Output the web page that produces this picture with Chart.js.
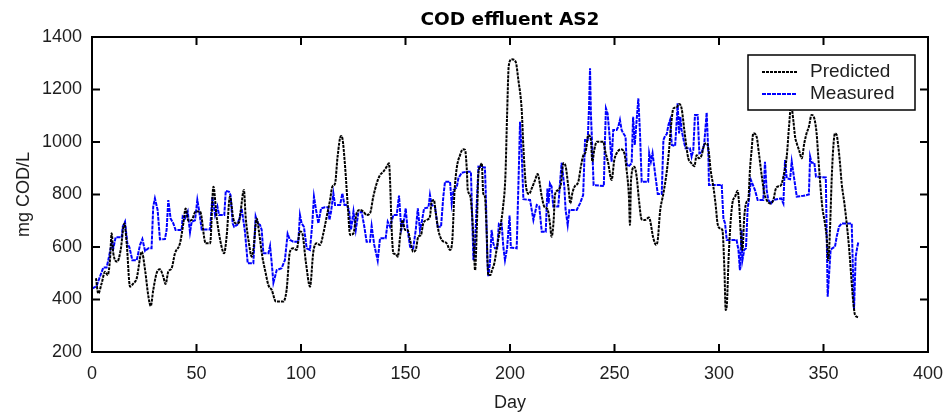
<!DOCTYPE html>
<html>
<head>
<meta charset="utf-8">
<script src="https://cdn.jsdelivr.net/npm/chart.js@4.4.1/dist/chart.umd.min.js"></script>
<style>
  html, body { margin: 0; padding: 0; background: #fff; }
</style>
</head>
<body>
<canvas id="cod" width="946" height="416"></canvas>
<script>
// Predicted COD (model output), day -> mg COD/L
const predDays = [
  1.9,3.0,4.6,6.2,7.5,8.6,9.4,10.2,12.1,13.7,15.5,16.6,18.2,19.8,21.4,23.8,25.4,27.0,28.1,29.3,
  30.9,32.5,34.1,35.2,36.5,38.1,39.7,42.1,43.7,44.8,46.1,47.7,49.6,51.7,54.4,56.5,58.1,59.6,62.0,63.2,
  64.4,66.0,67.6,68.7,70.3,71.1,72.7,73.5,75.1,76.4,77.2,78.8,80.0,81.5,82.8,84.4,86.0,88.0,91.5,93.1,
  94.7,96.3,97.9,99.5,100.6,102.4,104.3,105.9,107.5,109.1,110.7,112.3,113.9,115.0,116.3,117.5,119.1,119.8,121.1,122.4,
  123.5,125.1,126.6,128.2,129.8,131.4,133.0,134.6,136.2,137.8,139.4,141.0,142.1,142.6,143.4,144.2,145.3,146.3,147.4,148.5,
  149.8,151.0,152.2,153.7,154.9,156.1,157.4,158.5,160.1,161.7,162.5,163.6,164.4,165.7,167.3,169.7,171.3,172.4,173.4,174.5,
  176.1,177.4,178.5,179.3,179.8,180.9,181.7,182.5,183.3,184.1,184.9,185.7,186.5,187.2,188.0,188.8,189.6,190.6,191.4,192.5,
  193.8,195.4,196.6,197.8,198.6,199.4,200.8,202.7,204.0,205.6,206.4,207.5,209.1,210.4,212.0,213.2,215.2,216.4,218.0,219.1,
  219.9,220.9,221.5,223.1,224.4,225.5,226.6,227.9,228.9,229.8,230.9,232.7,233.9,235.0,236.2,237.5,238.7,239.4,240.3,241.5,
  244.7,245.4,247.0,248.6,249.9,251.5,253.1,254.7,255.8,256.9,257.4,257.9,259.5,260.6,261.7,263.0,264.6,266.5,268.6,269.9,
  270.7,271.8,273.4,275.0,276.1,277.0,278.2,279.7,280.9,282.1,283.4,284.5,285.3,286.6,288.2,289.3,290.4,291.7,292.9,294.1,
  295.0,296.0,297.3,298.4,299.3,300.5,301.6,302.6,303.2,303.8,304.5,305.3,306.4,307.7,308.9,309.6,310.5,311.2,312.1,313.3,
  314.0,314.8,315.6,316.4,318.0,319.1,320.4,321.7,322.8,324.4,326.0,327.1,328.0,329.7,330.8,332.4,333.5,334.5,335.6,336.4,
  337.2,338.3,339.6,340.8,341.9,343.0,344.3,345.6,346.7,347.5,348.3,349.4,350.7,351.5,352.3,353.1,353.9,354.7,355.5,356.3,
  357.1,357.9,358.7,360.0,361.1,361.9,362.7,363.5,364.3,365.1,366.7
];
const predValues = [
  481,423,461,506,493,550,652,576,544,588,690,614,449,461,481,582,512,411,375,436,
  500,515,487,459,506,519,576,614,690,747,700,703,735,735,614,614,830,716,601,576,
  639,792,709,690,693,735,817,716,614,563,589,709,652,563,512,455,436,392,392,436,
  582,595,589,659,652,538,449,582,614,608,652,716,779,830,842,944,1023,1014,906,754,
  646,652,728,741,735,722,728,792,842,874,887,906,919,855,665,576,573,563,639,703,
  665,665,627,582,589,639,646,690,703,716,773,779,735,665,627,614,589,627,804,900,
  950,972,970,900,817,798,741,639,512,665,881,906,919,804,792,665,493,493,512,538,
  601,677,747,870,1100,1290,1315,1306,1236,1122,982,842,802,823,855,878,792,754,743,690,
  639,703,798,817,842,919,908,830,766,804,830,849,906,947,963,1027,1008,925,969,1001,
  1001,970,919,855,931,963,972,957,893,792,684,855,906,868,779,705,703,712,633,608,
  627,735,804,887,969,1058,1128,1132,1145,1128,1046,976,938,921,908,950,938,950,989,995,
  970,893,830,760,690,671,665,512,360,385,538,665,766,792,814,766,639,589,716,773,
  779,893,969,1033,1020,957,874,804,779,766,779,820,830,836,868,944,1058,1140,1080,1020,
  995,969,938,995,1033,1058,1103,1090,1033,944,855,754,690,639,550,665,855,982,1033,1027,
  982,919,842,766,690,627,550,461,385,341,332
];

// Measured COD, day -> mg COD/L
const measDays = [
  0.2,2.2,3.8,5.4,7.0,7.8,8.6,9.4,10.2,11.3,14.2,14.7,15.8,16.9,17.9,19.3,21.4,23.0,24.1,25.4,
  27.0,28.5,29.3,30.1,31.4,32.5,34.9,35.7,36.5,37.6,38.9,40.0,42.9,43.4,44.5,45.8,46.9,47.7,49.3,50.4,
  51.2,52.5,56.5,57.6,58.9,60.0,60.8,63.3,64.0,65.6,66.3,67.3,68.0,69.5,70.8,71.6,72.4,73.2,74.5,77.2,
  78.3,79.3,80.4,81.2,82.0,84.4,85.2,86.0,86.8,88.4,90.7,92.3,93.6,94.7,96.3,98.7,99.5,100.3,101.4,102.7,
  104.3,105.4,106.2,107.2,108.3,109.6,111.5,113.0,113.6,114.4,115.5,116.3,118.7,119.8,120.8,122.0,123.0,123.9,125.1,126.2,
  127.4,129.0,130.3,131.4,133.0,133.8,135.0,136.7,137.8,140.5,141.5,142.6,144.2,145.8,146.9,148.0,149.0,150.1,151.0,152.2,
  153.7,154.9,155.9,156.9,157.8,158.9,161.0,161.7,162.5,164.1,165.4,167.0,168.1,168.9,171.3,172.1,173.0,174.5,175.3,176.9,
  179.3,181.3,181.9,182.5,183.3,184.1,184.9,188.0,188.5,189.1,189.6,190.4,191.2,192.0,192.8,193.9,194.7,196.0,196.8,197.6,
  198.6,199.8,200.4,203.2,204.3,204.8,205.6,206.4,209.6,211.2,212.8,214.0,215.2,217.1,217.9,218.5,219.1,219.9,220.7,223.1,
  223.9,224.7,226.0,226.6,227.6,228.4,231.9,233.5,235.0,235.9,237.2,237.8,238.3,238.7,239.4,240.0,244.9,245.4,245.9,246.7,
  247.8,248.6,249.4,251.0,251.8,252.6,253.4,254.2,255.3,255.8,256.6,258.2,258.9,259.7,260.6,261.4,262.2,263.0,266.1,266.6,
  267.4,268.2,269.7,270.7,272.6,273.4,274.2,275.0,275.8,276.6,277.4,279.0,279.8,280.2,280.9,281.5,282.1,283.4,284.0,286.1,
  286.9,287.7,288.5,289.8,290.6,291.7,292.9,294.1,294.9,295.2,301.3,302.1,302.9,303.7,308.4,309.3,310.0,310.8,311.2,312.1,
  312.9,313.7,314.3,315.3,317.2,318.5,321.2,322.0,322.8,323.6,324.9,326.0,329.7,330.8,331.6,332.4,334.0,334.8,335.6,337.2,
  340.4,342.0,343.0,343.6,344.3,345.6,346.4,351.1,351.5,352.0,352.6,353.4,354.2,355.5,356.3,357.4,358.7,363.5,364.0,364.6,
  365.4,366.2,366.7
];
const measValues = [
  442,451,487,522,522,550,582,614,595,637,637,677,696,614,599,550,550,608,630,585,
  595,595,754,785,741,629,630,665,779,709,690,665,665,716,709,735,656,696,702,779,
  741,667,667,792,722,754,722,722,814,810,797,690,677,684,716,747,703,658,538,538,
  716,690,684,665,576,576,604,538,464,512,519,550,650,627,620,620,722,690,677,595,
  589,690,792,741,690,747,751,751,703,735,804,760,760,804,760,760,741,665,735,665,
  728,735,677,620,620,680,610,548,633,633,696,677,722,722,796,665,690,747,665,601,
  595,665,747,665,696,747,751,798,760,754,677,677,792,849,849,766,817,827,862,883,
  887,887,716,550,620,766,906,903,779,563,489,538,665,614,595,595,690,690,601,550,
  595,720,598,595,919,1077,957,782,779,703,760,754,658,658,823,766,842,830,754,754,
  842,921,830,741,684,741,741,766,798,1008,1008,1128,1281,1109,969,836,832,995,1128,1109,
  1008,925,1046,1046,1058,1084,1046,1033,1020,919,906,919,1096,989,1084,1166,1033,849,849,957,
  925,957,862,802,802,1008,1023,1030,1065,1084,989,985,1084,1147,1033,1096,1046,995,976,976,
  944,969,1103,1103,957,960,989,1112,957,836,836,709,690,627,627,589,512,665,550,589,
  595,747,779,855,817,779,779,925,817,779,766,779,785,766,931,862,858,925,881,792,
  795,798,800,944,921,921,868,865,665,411,487,589,595,601,639,677,690,690,538,360,
  563,601,620
];

const toPoints = (xs, ys) => xs.map((d, i) => ({ x: d, y: ys[i] }));

const textFont = '"Liberation Sans", Arial, Helvetica, sans-serif';
const textColor = '#1e1e1e';

// MATLAB style box: frame, inward ticks on all sides and a boxed legend
const matlabBox = {
  id: 'matlabBox',
  afterDatasetsDraw(chart) {
    const { ctx, chartArea: a, scales: { x, y } } = chart;
    const len = 8;
    ctx.save();
    ctx.strokeStyle = '#000';
    ctx.lineWidth = 2;
    ctx.beginPath();
    x.ticks.forEach(t => {
      const px = x.getPixelForValue(t.value);
      ctx.moveTo(px, a.bottom); ctx.lineTo(px, a.bottom - len);
      ctx.moveTo(px, a.top); ctx.lineTo(px, a.top + len);
    });
    y.ticks.forEach(t => {
      const py = y.getPixelForValue(t.value);
      ctx.moveTo(a.left, py); ctx.lineTo(a.left + len, py);
      ctx.moveTo(a.right, py); ctx.lineTo(a.right - len, py);
    });
    ctx.stroke();
    ctx.strokeRect(a.left, a.top, a.right - a.left, a.bottom - a.top);

    // legend
    const bw = 167, bh = 55;
    const bx = a.right - 13 - bw, by = a.top + 18;
    ctx.fillStyle = '#fff';
    ctx.fillRect(bx, by, bw, bh);
    ctx.lineWidth = 1.5;
    ctx.strokeRect(bx, by, bw, bh);
    ctx.font = '19px ' + textFont;
    ctx.textBaseline = 'middle';
    ctx.textAlign = 'left';
    chart.data.datasets.forEach((ds, i) => {
      const cy = by + 17 + i * 22;
      ctx.save();
      ctx.strokeStyle = ds.borderColor;
      ctx.lineWidth = ds.borderWidth;
      ctx.setLineDash(ds.borderDash);
      ctx.beginPath();
      ctx.moveTo(bx + 14, cy);
      ctx.lineTo(bx + 49, cy);
      ctx.stroke();
      ctx.restore();
      ctx.fillStyle = textColor;
      ctx.fillText(ds.label, bx + 62, cy);
    });
    ctx.restore();
  }
};

new Chart(document.getElementById('cod'), {
  type: 'line',
  data: {
    datasets: [{
      label: 'Predicted',
      data: toPoints(predDays, predValues),
      borderColor: '#000000',
      borderWidth: 2,
      borderDash: [3, 1],
      cubicInterpolationMode: 'monotone',
      pointRadius: 0,
      fill: false
    }, {
      label: 'Measured',
      data: toPoints(measDays, measValues),
      borderColor: '#0000ff',
      borderWidth: 2,
      borderDash: [4, 1],
      tension: 0,
      pointRadius: 0,
      fill: false
    }]
  },
  options: {
    responsive: false,
    animation: false,
    layout: { padding: { left: 0, right: 18, top: 0, bottom: 0 } },
    plugins: {
      legend: { display: false },
      tooltip: { enabled: false },
      title: {
        display: true,
        fullSize: false,
        text: 'COD effluent AS2',
        color: '#000',
        font: { family: '"DejaVu Sans", sans-serif', weight: 'bold', size: 18.5 },
        padding: { top: 9, bottom: 5.8 }
      }
    },
    scales: {
      x: {
        type: 'linear',
        min: 0,
        max: 400,
        afterFit: s => { s.height = 64; s.paddingLeft = 0; s.paddingRight = 0; },
        grid: { display: false, drawTicks: false },
        border: { display: false },
        ticks: {
          stepSize: 50,
          autoSkip: false,
          maxRotation: 0,
          padding: 11,
          color: textColor,
          font: { family: textFont, size: 18 },
          callback: v => String(v)
        },
        title: {
          display: true,
          text: 'Day',
          color: textColor,
          font: { family: textFont, size: 18 },
          padding: { top: 0, bottom: 2 }
        }
      },
      y: {
        min: 200,
        max: 1400,
        afterFit: s => { s.width = 92; s.paddingTop = 0; s.paddingBottom = 0; },
        grid: { display: false, drawTicks: false },
        border: { display: false },
        ticks: {
          stepSize: 200,
          padding: 10,
          color: textColor,
          font: { family: textFont, size: 18 },
          callback: v => String(v)
        },
        title: {
          display: true,
          text: 'mg COD/L',
          color: textColor,
          font: { family: textFont, size: 18 },
          padding: { top: 13, bottom: 0 }
        }
      }
    }
  },
  plugins: [matlabBox]
});
</script>
</body>
</html>
